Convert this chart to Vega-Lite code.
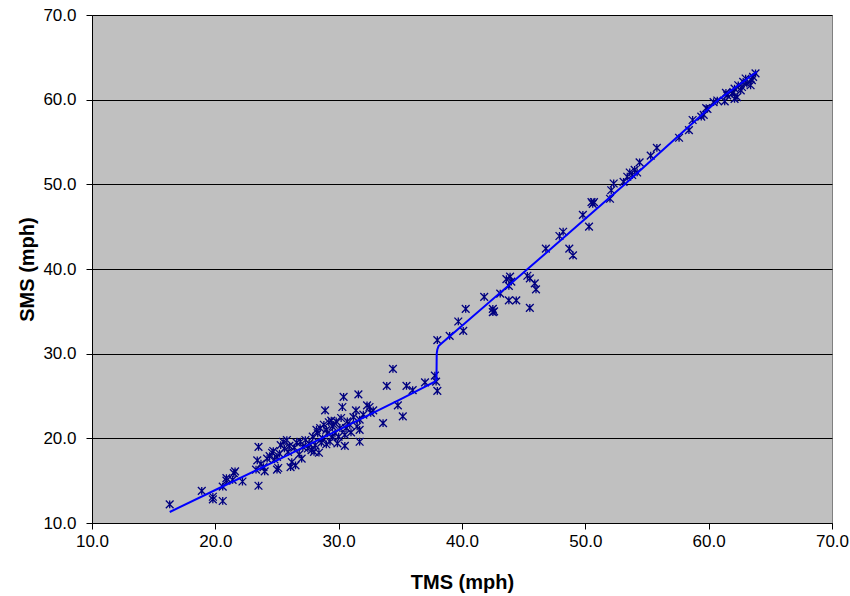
{
  "$schema": "https://vega.github.io/schema/vega-lite/v6.json",
  "width": 740,
  "height": 508,
  "autosize": "none",
  "padding": {"left": 92, "top": 15, "right": 18, "bottom": 73},
  "background": "white",
  "config": {
    "view": {"fill": "#C0C0C0", "stroke": "#808080", "strokeWidth": 1},
    "font": "Liberation Sans",
    "axis": {
      "labelFont": "Liberation Sans",
      "labelFontSize": 17,
      "labelColor": "black",
      "labelFlush": false,
      "titleFont": "Liberation Sans",
      "titleFontSize": 20,
      "titleFontWeight": "bold",
      "titleColor": "black",
      "domainColor": "black",
      "domainWidth": 1,
      "tickColor": "black",
      "tickSize": 6,
      "tickWidth": 1
    }
  },
  "datasets": {
    "pts": [
      {"tms":16.3,"sms":12.2},{"tms":18.9,"sms":13.8},{"tms":19.8,"sms":13.1},{"tms":19.8,"sms":12.8},
      {"tms":20.6,"sms":12.6},{"tms":20.6,"sms":14.3},{"tms":20.9,"sms":15.3},{"tms":20.9,"sms":15.0},
      {"tms":21.5,"sms":15.9},{"tms":21.6,"sms":16.1},{"tms":21.4,"sms":15.1},{"tms":22.2,"sms":14.9},
      {"tms":23.5,"sms":19.0},{"tms":23.5,"sms":14.4},{"tms":23.3,"sms":16.3},{"tms":23.4,"sms":17.4},
      {"tms":23.7,"sms":17.0},{"tms":23.9,"sms":16.6},{"tms":24.0,"sms":16.1},{"tms":24.2,"sms":17.6},
      {"tms":24.4,"sms":17.9},{"tms":24.6,"sms":18.3},{"tms":24.7,"sms":18.5},{"tms":24.8,"sms":17.5},
      {"tms":25.0,"sms":16.3},{"tms":25.1,"sms":16.5},{"tms":25.0,"sms":17.8},{"tms":25.2,"sms":18.2},
      {"tms":25.3,"sms":19.2},{"tms":25.5,"sms":19.6},{"tms":25.6,"sms":18.8},{"tms":25.8,"sms":19.8},
      {"tms":25.9,"sms":18.4},{"tms":26.0,"sms":19.1},{"tms":26.1,"sms":16.6},{"tms":26.2,"sms":17.2},
      {"tms":26.4,"sms":18.9},{"tms":26.5,"sms":16.8},{"tms":26.6,"sms":19.5},{"tms":26.8,"sms":18.1},
      {"tms":26.9,"sms":19.6},{"tms":27.0,"sms":17.6},{"tms":27.1,"sms":19.0},{"tms":27.3,"sms":19.8},
      {"tms":27.5,"sms":18.8},{"tms":27.6,"sms":19.4},{"tms":27.8,"sms":18.6},{"tms":27.9,"sms":20.2},
      {"tms":28.0,"sms":18.4},{"tms":28.1,"sms":19.2},{"tms":28.2,"sms":21.0},{"tms":28.3,"sms":20.6},
      {"tms":28.4,"sms":18.3},{"tms":28.5,"sms":21.2},{"tms":28.6,"sms":19.5},{"tms":28.7,"sms":20.0},
      {"tms":28.8,"sms":21.6},{"tms":28.9,"sms":23.3},{"tms":29.0,"sms":19.3},{"tms":29.0,"sms":21.0},
      {"tms":29.1,"sms":20.6},{"tms":29.2,"sms":21.9},{"tms":29.3,"sms":19.6},{"tms":29.4,"sms":22.1},
      {"tms":29.5,"sms":20.2},{"tms":29.5,"sms":21.4},{"tms":29.6,"sms":21.6},{"tms":29.7,"sms":20.6},
      {"tms":29.8,"sms":22.0},{"tms":29.9,"sms":19.4},{"tms":30.0,"sms":20.2},{"tms":30.1,"sms":21.2},
      {"tms":30.2,"sms":22.4},{"tms":30.3,"sms":23.7},{"tms":30.4,"sms":24.9},{"tms":30.5,"sms":20.4},
      {"tms":30.5,"sms":19.1},{"tms":30.6,"sms":21.2},{"tms":30.7,"sms":22.0},{"tms":30.9,"sms":21.6},
      {"tms":31.0,"sms":20.7},{"tms":31.2,"sms":22.5},{"tms":31.4,"sms":23.3},{"tms":31.5,"sms":21.4},
      {"tms":31.6,"sms":25.2},{"tms":31.7,"sms":22.2},{"tms":31.7,"sms":21.0},{"tms":31.7,"sms":19.6},
      {"tms":32.0,"sms":22.8},{"tms":32.3,"sms":23.9},{"tms":32.5,"sms":23.7},{"tms":32.6,"sms":23.0},
      {"tms":32.8,"sms":23.3},{"tms":33.6,"sms":21.8},{"tms":33.9,"sms":26.2},{"tms":34.4,"sms":28.2},
      {"tms":34.8,"sms":23.9},{"tms":35.2,"sms":22.6},{"tms":35.5,"sms":26.2},{"tms":36.0,"sms":25.7},
      {"tms":37.0,"sms":26.6},{"tms":37.8,"sms":27.4},{"tms":37.9,"sms":26.7},{"tms":38.0,"sms":25.6},
      {"tms":38.0,"sms":31.6},{"tms":39.0,"sms":32.1},{"tms":40.1,"sms":32.7},{"tms":39.7,"sms":33.8},
      {"tms":40.3,"sms":35.3},{"tms":41.8,"sms":36.7},{"tms":42.5,"sms":35.3},{"tms":42.6,"sms":35.0},
      {"tms":42.5,"sms":34.9},{"tms":43.1,"sms":37.1},{"tms":43.6,"sms":38.8},{"tms":43.9,"sms":39.1},
      {"tms":44.0,"sms":38.5},{"tms":43.8,"sms":38.0},{"tms":43.8,"sms":36.3},{"tms":44.4,"sms":36.3},
      {"tms":45.5,"sms":35.4},{"tms":45.3,"sms":39.2},{"tms":45.5,"sms":38.9},{"tms":45.9,"sms":38.3},
      {"tms":46.0,"sms":37.6},{"tms":46.8,"sms":42.4},{"tms":47.9,"sms":43.9},{"tms":48.2,"sms":44.4},
      {"tms":48.7,"sms":42.4},{"tms":49.0,"sms":41.6},{"tms":49.8,"sms":46.4},{"tms":50.3,"sms":45.0},
      {"tms":50.5,"sms":47.9},{"tms":50.6,"sms":47.7},{"tms":50.7,"sms":47.9},{"tms":52.0,"sms":48.3},
      {"tms":52.1,"sms":49.3},{"tms":52.3,"sms":50.1},{"tms":53.1,"sms":50.3},{"tms":53.4,"sms":50.9},
      {"tms":53.6,"sms":51.4},{"tms":54.0,"sms":51.7},{"tms":54.2,"sms":51.4},{"tms":53.8,"sms":51.1},
      {"tms":54.4,"sms":52.6},{"tms":55.3,"sms":53.4},{"tms":55.8,"sms":54.3},{"tms":57.6,"sms":55.5},
      {"tms":58.4,"sms":56.4},{"tms":58.7,"sms":57.6},{"tms":59.4,"sms":58.0},{"tms":59.6,"sms":58.2},
      {"tms":59.9,"sms":58.9},{"tms":59.8,"sms":59.0},{"tms":60.4,"sms":59.7},{"tms":60.7,"sms":59.9},
      {"tms":61.3,"sms":59.8},{"tms":61.5,"sms":60.5},{"tms":61.4,"sms":60.8},{"tms":61.9,"sms":60.7},
      {"tms":62.1,"sms":61.3},{"tms":62.4,"sms":61.7},{"tms":62.6,"sms":61.1},{"tms":62.3,"sms":60.3},
      {"tms":62.8,"sms":62.1},{"tms":63.1,"sms":61.9},{"tms":63.4,"sms":61.7},{"tms":63.0,"sms":62.5},
      {"tms":63.6,"sms":62.7},{"tms":63.8,"sms":63.1},{"tms":63.5,"sms":62.3},{"tms":62.0,"sms":60.9},
      {"tms":62.7,"sms":61.5},{"tms":62.1,"sms":60.1}
    ],
    "fit": [
      {"tms":16.3,"sms":11.3},{"tms":20.0,"sms":13.9},{"tms":25.0,"sms":17.4},{"tms":30.0,"sms":21.0},
      {"tms":35.0,"sms":24.6},{"tms":37.8,"sms":26.7},{"tms":37.93,"sms":26.9},{"tms":37.95,"sms":30.0},
      {"tms":38.0,"sms":30.5},{"tms":38.1,"sms":30.9},{"tms":38.4,"sms":31.3},{"tms":40.0,"sms":33.3},
      {"tms":45.25,"sms":39.9},{"tms":53.2,"sms":50.0},{"tms":60.8,"sms":60.0},{"tms":63.9,"sms":63.3}
    ]
  },
  "layer": [
    {
      "data": {"name": "pts"},
      "mark": {
        "type": "point",
        "shape": "M-1,-1L1,1M-1,1L1,-1M0,-1L0,1",
        "filled": false,
        "size": 60,
        "stroke": "#000080",
        "strokeWidth": 1.3,
        "opacity": 1
      },
      "encoding": {
        "x": {
          "field": "tms", "type": "quantitative",
          "scale": {"domain": [10, 70], "nice": false, "zero": false},
          "axis": {"title": "TMS (mph)", "values": [10,20,30,40,50,60,70], "format": ".1f", "grid": false, "labelPadding": 4, "titlePadding": 23}
        },
        "y": {
          "field": "sms", "type": "quantitative",
          "scale": {"domain": [10, 70], "nice": false, "zero": false},
          "axis": {"title": "SMS (mph)", "values": [10,20,30,40,50,60,70], "format": ".1f", "grid": true, "gridColor": "black", "gridOpacity": 1, "gridWidth": 1, "labelPadding": 10, "titlePadding": 5}
        }
      }
    },
    {
      "data": {"name": "fit"},
      "mark": {"type": "line", "color": "#0000FF", "strokeWidth": 2, "interpolate": "linear"},
      "encoding": {
        "x": {"field": "tms", "type": "quantitative"},
        "y": {"field": "sms", "type": "quantitative"}
      }
    }
  ]
}
